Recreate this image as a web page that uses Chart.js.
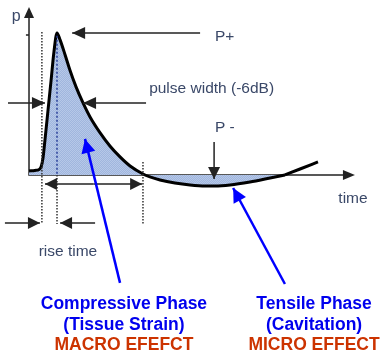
<!DOCTYPE html>
<html>
    <head>
        <meta charset="UTF-8">
        <title>Pressure pulse</title>
        <script src="https://cdn.jsdelivr.net/npm/chart.js@4.4.1/dist/chart.umd.min.js"></script>
        <style>
            html, body { margin: 0; padding: 0; background: #fff; }
            #box { width: 381px; height: 359px; }
        </style>
        <script type="text/javascript">
            // pulse shape: time (arbitrary units, peak at 1) and pressure (peak = 1)
            var pulseTime = [0, 0.21, 0.36, 0.43, 0.5, 0.57, 0.68, 0.79, 0.89, 1.0, 1.11, 1.29, 1.46, 1.68,
                1.93, 2.18, 2.54, 2.89, 3.25, 3.61, 4.07, 4.32, 4.68, 5.21, 5.75, 6.29, 6.64, 7.18, 7.89,
                8.61, 9.14, 9.68, 10.32];
            var pulsePressure = [0.028, 0.032, 0.039, 0.056, 0.12, 0.246, 0.458, 0.669, 0.866, 1.0, 0.951,
                0.845, 0.739, 0.62, 0.507, 0.408, 0.296, 0.204, 0.127, 0.063, 0.007, -0.014, -0.035,
                -0.056, -0.07, -0.077, -0.077, -0.07, -0.049, -0.021, 0.0, 0.042, 0.092];

            // markers on the time axis
            var riseStart = 0.46;
            var peakTime = 1.0;
            var pulseEnd = 4.07;
            var tensileEnd = 9.14;
            var halfLevel = 0.507;

            var axisLabels = ['p', 'time'];
            var markLabels = ['P+', 'pulse width (-6dB)', 'P -', 'rise time'];
            var compressiveLines = ['Compressive Phase', '(Tissue Strain)', 'MACRO EFEFCT'];
            var tensileLines = ['Tensile Phase', '(Cavitation)', 'MICRO EFFECT'];

            window.onload = function () {
                var ctx = document.getElementById('pulseCanvas').getContext('2d');

                // checkered light blue fill like the original
                var pc = document.createElement('canvas');
                pc.width = 2; pc.height = 2;
                var pctx = pc.getContext('2d');
                pctx.fillStyle = '#a0b6de'; pctx.fillRect(0, 0, 2, 2);
                pctx.fillStyle = '#b6c8e8'; pctx.fillRect(0, 0, 1, 1); pctx.fillRect(1, 1, 1, 1);
                var fillPattern = ctx.createPattern(pc, 'repeat');

                var labelColor = '#3a4868';
                var arrowColor = '#222222';

                function arrowHead(c, x1, y1, x2, y2, len, wid, color) {
                    var a = Math.atan2(y2 - y1, x2 - x1);
                    c.save();
                    c.fillStyle = color;
                    c.beginPath();
                    c.moveTo(x2, y2);
                    c.lineTo(x2 - len * Math.cos(a) + wid * Math.sin(a), y2 - len * Math.sin(a) - wid * Math.cos(a));
                    c.lineTo(x2 - len * Math.cos(a) - wid * Math.sin(a), y2 - len * Math.sin(a) + wid * Math.cos(a));
                    c.closePath();
                    c.fill();
                    c.restore();
                }

                var annotations = {
                    id: 'annotations',
                    beforeDatasetsDraw: function (chart) {
                        var c = chart.ctx;
                        var xs = chart.scales.x, ys = chart.scales.y;
                        var X = function (t) { return xs.getPixelForValue(t); };
                        var Y = function (p) { return ys.getPixelForValue(p); };
                        c.save();
                        // axes
                        c.strokeStyle = arrowColor;
                        c.lineWidth = 1.5;
                        c.beginPath();
                        c.moveTo(X(0), Y(-0.005)); c.lineTo(X(0), Y(1.12));
                        c.moveTo(X(0), Y(0)); c.lineTo(X(11.3), Y(0));
                        c.moveTo(X(-0.11), Y(0.986)); c.lineTo(X(0), Y(0.986));
                        c.stroke();
                        arrowHead(c, X(0), Y(1.0), X(0), Y(1.183), 11, 5, arrowColor);
                        arrowHead(c, X(11), Y(0), X(11.64), Y(0), 12, 5, arrowColor);
                        c.restore();
                    },
                    afterDatasetsDraw: function (chart) {
                        var c = chart.ctx;
                        var xs = chart.scales.x, ys = chart.scales.y;
                        var X = function (t) { return xs.getPixelForValue(t); };
                        var Y = function (p) { return ys.getPixelForValue(p); };

                        function arrow(t1, p1, t2, p2, color, width, len, wid) {
                            c.save();
                            c.strokeStyle = color;
                            c.lineWidth = width;
                            c.beginPath();
                            c.moveTo(X(t1), Y(p1));
                            c.lineTo(X(t2), Y(p2));
                            c.stroke();
                            c.restore();
                            arrowHead(c, X(t1), Y(p1), X(t2), Y(p2), len, wid, color);
                        }
                        function vline(t, p1, p2, color, dash) {
                            c.save();
                            c.strokeStyle = color;
                            c.lineWidth = 1.5;
                            c.setLineDash(dash);
                            c.beginPath();
                            c.moveTo(X(t), Y(p1));
                            c.lineTo(X(t), Y(p2));
                            c.stroke();
                            c.restore();
                        }
                        function text(s, t, p, font, color, align) {
                            c.save();
                            c.font = font;
                            c.fillStyle = color;
                            c.textAlign = align;
                            c.textBaseline = 'middle';
                            c.fillText(s, X(t), Y(p));
                            c.restore();
                        }

                        // dotted time markers
                        vline(riseStart, 1.007, -0.345, '#333', [1.5, 1.5]);
                        vline(peakTime, 0.98, 0.0, '#2a3f9a', [2, 2]);
                        vline(peakTime, 0.0, -0.345, '#333', [1.5, 1.5]);
                        vline(pulseEnd, 0.092, -0.345, '#333', [1.5, 1.5]);

                        // black arrows
                        arrow(6.11, 1.0, 1.54, 1.0, arrowColor, 1.5, 13, 6);
                        arrow(-0.75, halfLevel, 0.57, halfLevel, arrowColor, 1.5, 13, 6);
                        arrow(4.18, halfLevel, 1.93, halfLevel, arrowColor, 1.5, 13, 6);
                        arrow(6.61, 0.232, 6.61, -0.028, arrowColor, 1.5, 12, 6);
                        arrow(2.3, -0.063, 0.57, -0.063, arrowColor, 1.5, 12, 6);
                        arrow(2.3, -0.063, 4.04, -0.063, arrowColor, 1.5, 12, 6);
                        arrow(-0.86, -0.338, 0.39, -0.338, arrowColor, 1.5, 12, 6);
                        arrow(2.36, -0.338, 1.11, -0.338, arrowColor, 1.5, 12, 6);

                        // blue pointer arrows
                        arrow(3.25, -0.76, 2.0, 0.254, '#0000ff', 2.5, 14, 7);
                        arrow(9.14, -0.768, 7.29, -0.092, '#0000ff', 2.5, 14, 7);

                        // labels
                        var reg = '15.5px "Liberation Sans", Arial, sans-serif';
                        text(axisLabels[0], -0.46, 1.113, '16px "Liberation Sans", Arial, sans-serif', labelColor, 'center');
                        text(axisLabels[1], 11.57, -0.169, reg, labelColor, 'center');
                        text(markLabels[0], 6.64, 0.972, reg, labelColor, 'left');
                        text(markLabels[1], 4.29, 0.606, reg, labelColor, 'left');
                        text(markLabels[2], 6.64, 0.331, reg, labelColor, 'left');
                        text(markLabels[3], 1.39, -0.542, reg, labelColor, 'center');

                        var bold = 'bold 17.5px "Liberation Sans", Arial, sans-serif';
                        var rows = [-0.908, -1.056, -1.197];
                        var colors = ['#0000ee', '#0000ee', '#cc3300'];
                        for (var i = 0; i < 3; i++) {
                            text(compressiveLines[i], 3.39, rows[i], bold, colors[i], 'center');
                            text(tensileLines[i], 10.18, rows[i], bold, colors[i], 'center');
                        }
                    }
                };

                // filled part of the pulse up to the end of the tensile phase, then the open tail
                var filledPoints = [], tailPoints = [];
                pulseTime.forEach(function (t, i) {
                    if (t <= tensileEnd) filledPoints.push({x: t, y: pulsePressure[i]});
                    if (t >= tensileEnd) tailPoints.push({x: t, y: pulsePressure[i]});
                });

                window.pulseChart = new Chart(ctx, {
                    type: 'line',
                    data: {
                        datasets: [{
                            data: filledPoints,
                            borderColor: '#000000',
                            borderWidth: 3,
                            backgroundColor: fillPattern,
                            fill: 'origin',
                            pointRadius: 0,
                            cubicInterpolationMode: 'monotone'
                        }, {
                            data: tailPoints,
                            borderColor: '#000000',
                            borderWidth: 3,
                            fill: false,
                            pointRadius: 0,
                            cubicInterpolationMode: 'monotone'
                        }]
                    },
                    options: {
                        responsive: false,
                        animation: false,
                        layout: { padding: 0 },
                        plugins: {
                            legend: { display: false },
                            tooltip: { enabled: false }
                        },
                        scales: {
                            x: { type: 'linear', display: false, min: -1.036, max: 12.571 },
                            y: { type: 'linear', display: false, min: -1.296, max: 1.232 }
                        }
                    },
                    plugins: [annotations]
                });
            };
        </script>
    </head>
    <body>
        <div id="box">
            <canvas id="pulseCanvas" width="381" height="359"></canvas>
        </div>
    </body>
</html>
